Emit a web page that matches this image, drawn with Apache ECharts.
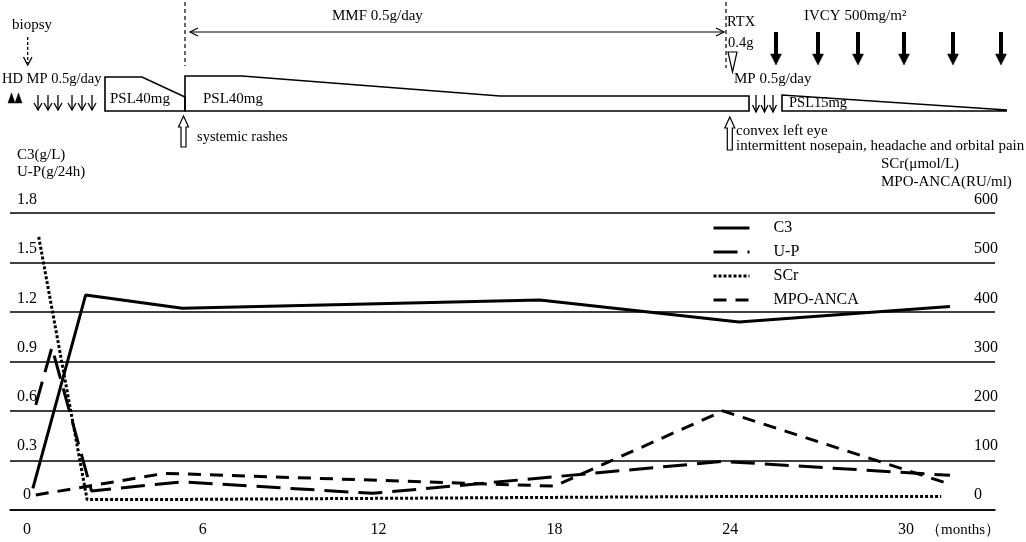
<!DOCTYPE html>
<html>
<head>
<meta charset="utf-8">
<script src="https://cdn.jsdelivr.net/npm/echarts@6/dist/echarts.min.js"></script>
<style>
html,body{margin:0;padding:0;background:#fff;}
#chart{width:1026px;height:542px;}
</style>
</head>
<body>
<div id="chart"></div>
<script>
// ---- data (months after onset) ----
const xTicks = [0, 6, 12, 18, 24, 30];
const leftTicksMax = 1.8;
const rightTicksMax = 600;

const c3Months = [0.2, 2.0, 5.3, 17.5, 24.3, 31.5];
const c3Values = [0.04, 1.22, 1.14, 1.19, 1.055, 1.15];

const upMonths = [0.3, 0.85, 2.2, 5.3, 11.8, 23.75, 31.5];
const upValues = [0.55, 0.90, 0.025, 0.08, 0.01, 0.205, 0.12];

const scrMonths = [0.4, 2.05, 5.3, 17.5, 24.3, 31.2];
const scrValues = [525, -9, -9, -5, -3, -3];

const mpoMonths = [0.3, 4.7, 5.3, 18.0, 23.75, 31.4];
const mpoValues = [0, 44, 43, 18, 171, 24];

const seriesNames = ['C3', 'U-P', 'SCr', 'MPO-ANCA'];

function pairs(xs, ys) { return xs.map((x, i) => [x, ys[i]]); }

const FONT = '"Liberation Serif", "Times New Roman", serif';

// ---- annotation helpers ----
function txt(x, y, s, size) {
  return { type: 'text', x: x, y: y, silent: true,
    style: { text: s, fontSize: size || 15, fontFamily: FONT, fill: '#000', align: 'left', verticalAlign: 'middle' } };
}
function ln(x1, y1, x2, y2, w, dash) {
  return { type: 'line', silent: true, shape: { x1, y1, x2, y2 },
    style: { stroke: '#000', lineWidth: w || 1.3, lineDash: dash || null } };
}
function pl(points, w, dash) {
  return { type: 'polyline', silent: true, shape: { points },
    style: { stroke: '#000', fill: null, lineWidth: w || 1.3, lineDash: dash || null } };
}
function pg(points, fill, w) {
  return { type: 'polygon', silent: true, shape: { points },
    style: { stroke: '#000', fill: fill, lineWidth: w || 1.3 } };
}
function thinDown(x, y1, y2, hw) {
  return [ln(x, y1, x, y2, 1.3), pl([[x - hw, y2 - 7], [x, y2], [x + hw, y2 - 7]], 1.3)];
}
function thickDown(x, y1, y2) {
  return [
    { type: 'rect', silent: true, shape: { x: x - 2, y: y1, width: 4, height: (y2 - y1) - 9 }, style: { fill: '#000' } },
    pg([[x - 5.5, y2 - 11], [x + 5.5, y2 - 11], [x, y2]], '#000', 0.5)
  ];
}
function hollowUp(x, y1, y2) {
  return pg([[x, y1], [x - 5, y1 + 11], [x - 2.5, y1 + 11], [x - 2.5, y2], [x + 2.5, y2], [x + 2.5, y1 + 11], [x + 5, y1 + 11]], '#fff', 1.2);
}

const g = [];
// biopsy
g.push(txt(12, 25, 'biopsy'));
g.push(ln(27.7, 37, 27.7, 63, 1.3, [3, 2]));
g.push(pl([[23.5, 57], [27.7, 65], [32, 57]], 1.3));
g.push(txt(2, 79, 'HD MP 0.5g/day', 14.5));
g.push(pg([[8, 103], [11.5, 93], [15, 103]], '#000', 0.5));
g.push(pg([[15, 103], [18.5, 93], [22, 103]], '#000', 0.5));
[38, 48, 58, 72, 82, 92].forEach(x => thinDown(x, 95, 110, 4).forEach(e => g.push(e)));
// PSL box 1
g.push(pg([[105, 111], [105, 77], [142, 77], [185, 97], [185, 111]], null, 1.6));
g.push(txt(110, 99, 'PSL40mg'));
// first dashed line and MMF arrow
g.push(ln(185, 2, 185, 66, 1.2, [4, 3]));
g.push(ln(190, 32, 724, 32, 1.2));
g.push(pl([[198, 28], [190, 32], [198, 36]], 1.2));
g.push(pl([[716, 28], [724, 32], [716, 36]], 1.2));
g.push(txt(332, 16, 'MMF 0.5g/day'));
// PSL box 2
g.push(pg([[185, 111], [185, 76], [242, 76], [500, 96], [749, 96], [749, 111]], null, 1.6));
g.push(txt(203, 99, 'PSL40mg'));
g.push(hollowUp(183.5, 116, 147));
g.push(txt(197, 137, 'systemic rashes', 14.5));
// RTX
g.push(ln(726, 2, 726, 68, 1.2, [4, 3]));
g.push(txt(727, 22, 'RTX', 14.5));
g.push(txt(728, 43, '0.4g', 14.5));
g.push(pg([[728, 52], [737, 52], [732.5, 72]], '#fff', 1.2));
// IVCY
g.push(txt(804, 16, 'IVCY 500mg/m²', 15));
[776, 818, 858, 904, 953, 1001].forEach(x => thickDown(x, 32, 65).forEach(e => g.push(e)));
g.push(txt(734, 79, 'MP 0.5g/day'));
[756, 764.5, 773].forEach(x => thinDown(x, 95, 112, 3.5).forEach(e => g.push(e)));
// PSL 15 box
g.push(pl([[1007, 110], [782, 95], [782, 111], [1007, 111]], 1.6));
g.push(txt(789, 103, 'PSL15mg', 14.5));
g.push(hollowUp(729.8, 117, 150));
g.push(txt(736, 131, 'convex left eye'));
g.push(txt(736, 146, 'intermittent nosepain, headache and orbital pain'));
// axis titles
g.push(txt(17, 155, 'C3(g/L)'));
g.push(txt(17, 172, 'U-P(g/24h)'));
g.push(txt(881, 164, 'SCr(μmol/L)'));
g.push(txt(881, 182, 'MPO-ANCA(RU/ml)'));
g.push(txt(926, 530, '（months）', 15));

const chart = echarts.init(document.getElementById('chart'), null, { renderer: 'canvas' });

const textBase = { color: '#000', fontFamily: FONT, fontSize: 16 };

const option = {
  animation: false,
  backgroundColor: '#fff',
  textStyle: { fontFamily: FONT, color: '#000' },
  grid: [
    { left: 10, right: 31, top: 213, bottom: 32, containLabel: false },
    { left: 27, right: 61.4, top: 200, bottom: 47, containLabel: false }
  ],
  xAxis: [
    { gridIndex: 0, type: 'value', min: 0, max: 1,
      axisLine: { show: true, lineStyle: { color: '#000', width: 1.5 } },
      axisTick: { show: false }, axisLabel: { show: false }, splitLine: { show: false } },
    { gridIndex: 1, type: 'value', min: 0, max: 32, interval: 6,
      axisLine: { show: false }, axisTick: { show: false }, splitLine: { show: false },
      axisLabel: Object.assign({ margin: 27, formatter: v => (xTicks.indexOf(v) >= 0 ? String(v) : '') }, textBase) }
  ],
  yAxis: [
    { gridIndex: 0, type: 'value', min: 0, max: 6, interval: 1,
      axisLine: { show: false }, axisTick: { show: false }, axisLabel: { show: false },
      splitLine: { show: true, lineStyle: { color: '#000', width: 1.5 } } },
    { gridIndex: 1, type: 'value', position: 'left', min: 0, max: leftTicksMax, interval: 0.3,
      axisLine: { show: false }, axisTick: { show: false }, splitLine: { show: false },
      axisLabel: Object.assign({ margin: 0, align: 'center' }, textBase) },
    { gridIndex: 1, type: 'value', position: 'right', min: 0, max: rightTicksMax, interval: 100,
      axisLine: { show: false }, axisTick: { show: false }, splitLine: { show: false },
      axisLabel: Object.assign({ margin: 9.5, align: 'left' }, textBase) }
  ],
  legend: {
    orient: 'vertical', left: 707, top: 215,
    itemWidth: 36, itemHeight: 14, itemGap: 8,
    data: seriesNames,
    itemStyle: { opacity: 0 },
    lineStyle: { width: 3 },
    textStyle: { color: '#000', fontFamily: FONT, fontSize: 16, lineHeight: 16, padding: [0, 0, 0, 19] }
  },
  series: [
    { name: seriesNames[0], type: 'line', xAxisIndex: 1, yAxisIndex: 1, symbol: 'none', clip: false,
      lineStyle: { color: '#000', width: 3, type: 'solid' }, itemStyle: { color: '#000' },
      data: pairs(c3Months, c3Values) },
    { name: seriesNames[1], type: 'line', xAxisIndex: 1, yAxisIndex: 1, symbol: 'none', clip: false,
      lineStyle: { color: '#000', width: 3, type: [24, 10] }, itemStyle: { color: '#000' },
      data: pairs(upMonths, upValues) },
    { name: seriesNames[2], type: 'line', xAxisIndex: 1, yAxisIndex: 2, symbol: 'none', clip: false,
      lineStyle: { color: '#000', width: 3, type: [3, 2] }, itemStyle: { color: '#000' },
      data: pairs(scrMonths, scrValues) },
    { name: seriesNames[3], type: 'line', xAxisIndex: 1, yAxisIndex: 2, symbol: 'none', clip: false,
      lineStyle: { color: '#000', width: 3, type: [13, 9] }, itemStyle: { color: '#000' },
      data: pairs(mpoMonths, mpoValues) }
  ],
  graphic: { elements: g }
};
chart.setOption(option);
</script>
</body>
</html>
